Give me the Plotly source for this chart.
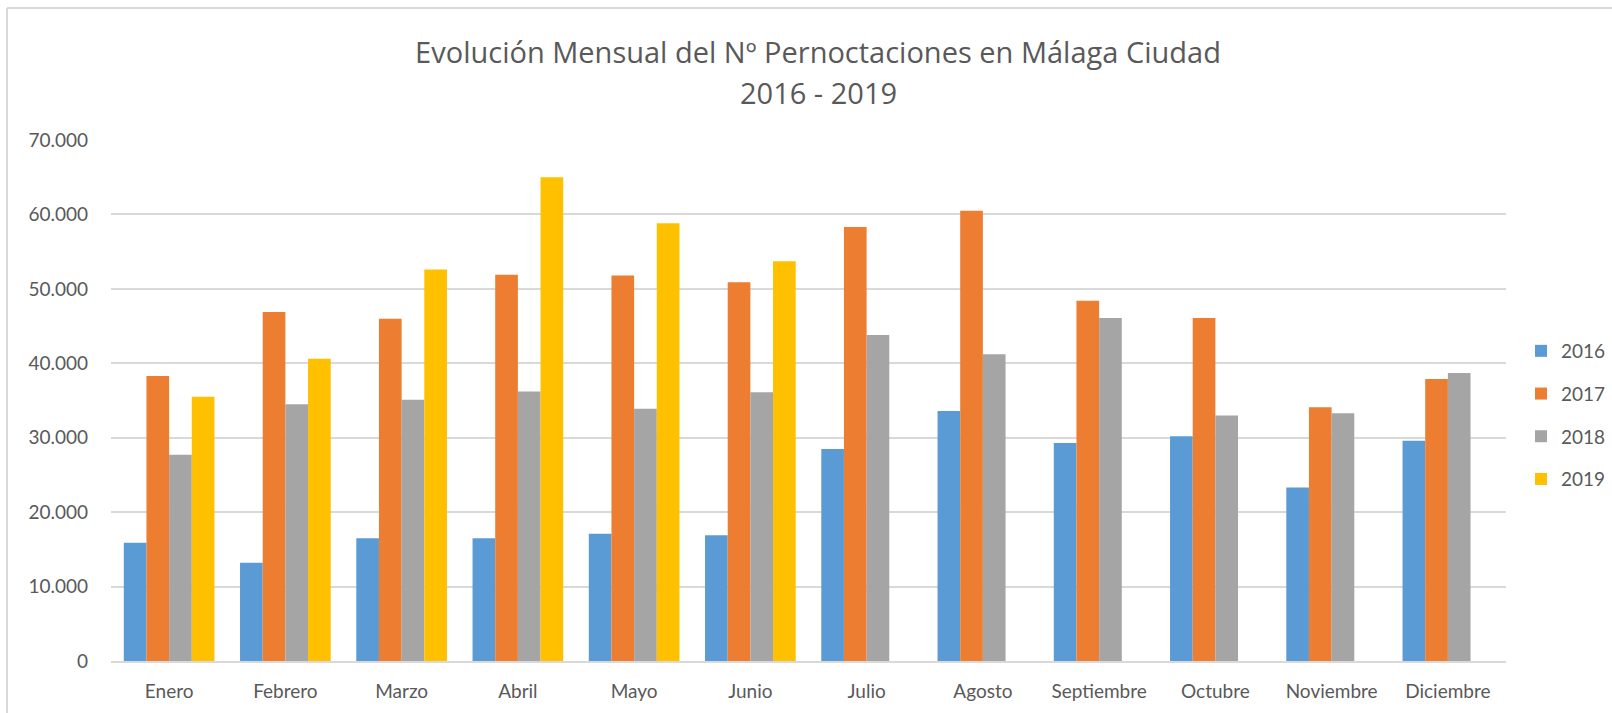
import plotly.graph_objects as go

meses = ["Enero", "Febrero", "Marzo", "Abril", "Mayo", "Junio", "Julio",
         "Agosto", "Septiembre", "Octubre", "Noviembre", "Diciembre"]
v2016 = [15900, 13200, 16500, 16500, 17100, 16900, 28500, 33600, 29300, 30200, 23300, 29600]
v2017 = [38300, 46900, 46000, 51900, 51800, 50900, 58300, 60500, 48400, 46100, 34100, 37900]
v2018 = [27700, 34500, 35100, 36200, 33900, 36100, 43800, 41200, 46100, 33000, 33300, 38700]
v2019 = [35500, 40600, 52600, 65000, 58800, 53700, None, None, None, None, None, None]

series = [("2016", v2016, "#5B9BD5"), ("2017", v2017, "#ED7D31"),
          ("2018", v2018, "#A5A5A5"), ("2019", v2019, "#FFC000")]

titulo = "Evolución Mensual del Nº Pernoctaciones en Málaga Ciudad"
subtitulo = "2016 - 2019"

W, H = 1612, 713
L, R, T, B = 111, 106, 140, 52
pw, ph = W - L - R, H - T - B

fig = go.Figure()
for name, vals, col in series:
    fig.add_trace(go.Bar(name=name, x=meses, y=vals, legendgroup=name,
                         marker=dict(color=col, line=dict(width=0))))

def px_x(p):
    return (p - L) / pw

def px_y(p):
    return (H - B - p) / ph

GREY = "#595959"
fig.update_layout(
    width=W, height=H,
    margin=dict(l=L, r=R, t=T, b=B, autoexpand=False),
    paper_bgcolor="white", plot_bgcolor="white",
    barmode="group", bargap=0.22, bargroupgap=0,
    separators=",.",
    font=dict(family="Lato, Calibri, sans-serif", color=GREY, size=19),
    title=dict(text=titulo, xref="paper", x=px_x(818), xanchor="center",
               yref="container", y=1 - 53 / H, yanchor="middle",
               font=dict(size=29, color=GREY, family="Open Sans, sans-serif")),
    annotations=[dict(text=subtitulo, xref="paper", yref="paper", x=px_x(818), y=px_y(92),
                      xanchor="center", yanchor="middle", showarrow=False,
                      font=dict(size=29, color=GREY, family="Open Sans, sans-serif"))],
    legend=dict(x=px_x(1521), xanchor="left", y=px_y(415), yanchor="middle",
                font=dict(size=19, color=GREY), itemwidth=30, tracegroupgap=15,
                bgcolor="rgba(0,0,0,0)"),
    xaxis=dict(showgrid=False, showline=True, linecolor="#D9D9D9", linewidth=2,
               ticks="", ticklabelstandoff=12, tickfont=dict(size=19, color=GREY)),
    yaxis=dict(range=[0, 70000], dtick=10000, tickformat=",d", showgrid=True,
               gridcolor="#D9D9D9", gridwidth=2, zeroline=False, showline=False,
               ticks="", ticklabelstandoff=22, tickfont=dict(size=19, color=GREY)),
    shapes=[
        dict(type="line", xref="paper", yref="paper", x0=px_x(7), x1=px_x(W), y0=px_y(8), y1=px_y(8),
             line=dict(color="#D9D9D9", width=2), layer="below"),
        dict(type="line", xref="paper", yref="paper", x0=px_x(7), x1=px_x(7), y0=px_y(8), y1=px_y(H),
             line=dict(color="#D9D9D9", width=2), layer="below"),
    ],
)

fig.write_html("out.html", config={"displayModeBar": False},
               post_script="document.body.style.margin='0';")
